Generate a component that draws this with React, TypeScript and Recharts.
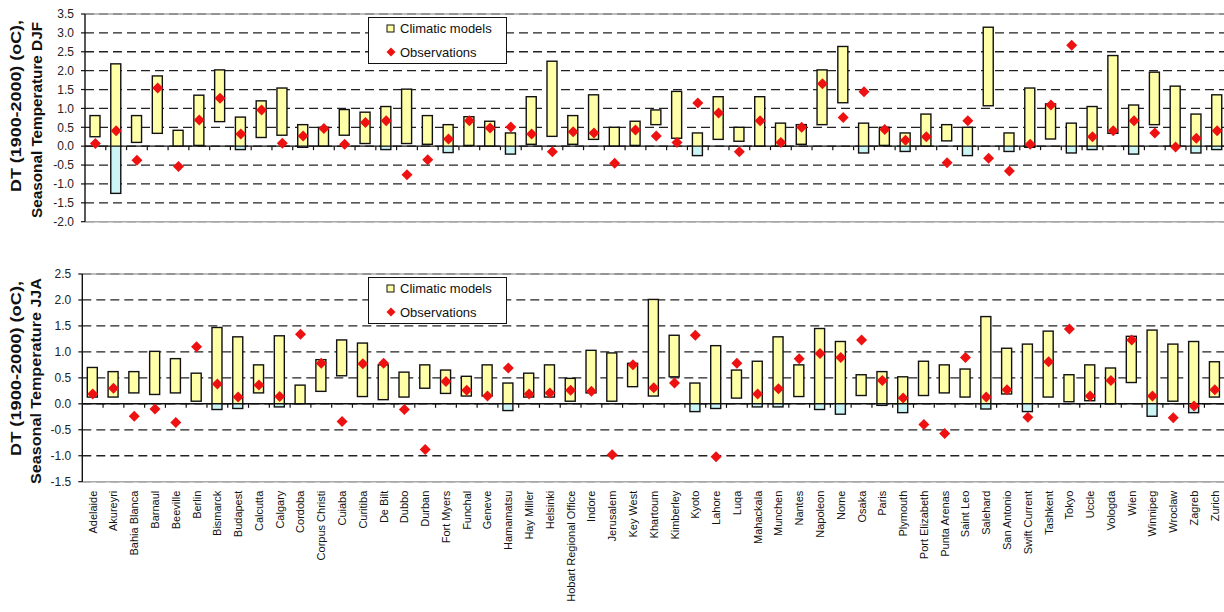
import React from "react";
import { Bar, CartesianGrid, ComposedChart, ReferenceLine, Scatter, XAxis, YAxis } from "recharts";

const cities = [
  "Adelaide", "Akureyri", "Bahia Blanca", "Barnaul", "Beeville", "Berlin", "Bismarck", "Budapest",
  "Calcutta", "Calgary", "Cordoba", "Corpus Christi", "Cuiaba", "Curitiba", "De Bilt", "Dubbo",
  "Durban", "Fort Myers", "Funchal", "Geneve", "Hamamatsu", "Hay Miller", "Helsinki",
  "Hobart Regional Office", "Indore", "Jerusalem", "Key West", "Khartoum", "Kimberley", "Kyoto",
  "Lahore", "Luqa", "Mahackala", "Munchen", "Nantes", "Napoleon", "Nome", "Osaka", "Paris",
  "Plymouth", "Port Elizabeth", "Punta Arenas", "Saint Leo", "Salehard", "San Antonio",
  "Swift Current", "Tashkent", "Tokyo", "Uccle", "Vologda", "Wien", "Winnipeg", "Wroclaw",
  "Zagreb", "Zurich",
];

// winter (DJF): model range and observed change
const djfHigh = [
  0.81, 2.18, 0.81, 1.86, 0.42, 1.35, 2.02, 0.77, 1.2, 1.54, 0.57, 0.5, 0.97, 0.9, 1.05, 1.51,
  0.81, 0.57, 0.78, 0.66, 0.35, 1.31, 2.25, 0.81, 1.36, 0.5, 0.66, 0.96, 1.45, 0.35, 1.31, 0.5,
  1.31, 0.61, 0.57, 2.02, 2.64, 0.61, 0.5, 0.35, 0.85, 0.57, 0.5, 3.15, 0.35, 1.54, 1.12, 0.61,
  1.05, 2.4, 1.09, 1.96, 1.59, 0.85, 1.36,
];
const djfLow = [
  0.25, -1.25, 0.1, 0.34, 0.0, 0.02, 0.65, -0.09, 0.23, 0.29, -0.03, 0.0, 0.29, 0.07, -0.09, 0.07,
  0.05, -0.17, 0.02, 0.0, -0.21, 0.05, 0.26, 0.05, 0.18, 0.0, 0.02, 0.57, 0.21, -0.25, 0.18, 0.13,
  0.0, 0.0, 0.05, 0.57, 1.15, -0.18, 0.02, -0.14, 0.0, 0.14, -0.25, 1.07, -0.14, -0.03, 0.19, -0.18,
  -0.09, 0.34, -0.21, 0.57, 0.0, -0.18, -0.09,
];
const djfObs = [
  0.07, 0.41, -0.37, 1.54, -0.54, 0.69, 1.27, 0.32, 0.96, 0.08, 0.27, 0.47, 0.05, 0.63, 0.67, -0.76,
  -0.36, 0.19, 0.67, 0.48, 0.51, 0.32, -0.15, 0.38, 0.35, -0.45, 0.43, 0.27, 0.1, 1.14, 0.88, -0.15,
  0.67, 0.1, 0.5, 1.65, 0.76, 1.44, 0.44, 0.16, 0.25, -0.44, 0.67, -0.32, -0.66, 0.05, 1.09, 2.67,
  0.25, 0.41, 0.67, 0.35, -0.02, 0.21, 0.41,
];

// summer (JJA)
const jjaHigh = [
  0.7, 0.62, 0.62, 1.01, 0.87, 0.59, 1.47, 1.29, 0.75, 1.31, 0.36, 0.85, 1.23, 1.17, 0.75, 0.61,
  0.75, 0.65, 0.53, 0.75, 0.4, 0.59, 0.75, 0.49, 1.03, 0.98, 0.78, 2.01, 1.32, 0.4, 1.12, 0.65,
  0.82, 1.29, 0.75, 1.45, 1.2, 0.56, 0.62, 0.52, 0.82, 0.75, 0.67, 1.68, 1.07, 1.15, 1.4, 0.56,
  0.75, 0.69, 1.3, 1.42, 1.15, 1.2, 0.81,
];
const jjaLow = [
  0.13, 0.13, 0.21, 0.18, 0.21, 0.05, -0.11, -0.09, 0.21, -0.06, 0.0, 0.24, 0.54, 0.14, 0.08, 0.13,
  0.3, 0.2, 0.15, 0.15, -0.13, 0.13, 0.13, 0.05, 0.21, 0.05, 0.33, 0.15, 0.52, -0.15, -0.09, 0.11,
  -0.06, -0.06, 0.14, -0.11, -0.2, 0.16, -0.03, -0.17, 0.16, 0.21, 0.13, -0.1, 0.19, -0.15, 0.13, 0.04,
  0.06, 0.0, 0.41, -0.24, 0.05, -0.17, 0.13,
];
const jjaObs = [
  0.19, 0.3, -0.24, -0.1, -0.36, 1.1, 0.38, 0.13, 0.36, 0.14, 1.34, 0.78, -0.34, 0.77, 0.78, -0.11,
  -0.88, 0.43, 0.26, 0.15, 0.69, 0.19, 0.21, 0.26, 0.24, -0.98, 0.75, 0.31, 0.4, 1.32, -1.02, 0.78,
  0.19, 0.29, 0.87, 0.97, 0.89, 1.23, 0.45, 0.11, -0.4, -0.57, 0.89, 0.13, 0.27, -0.26, 0.81, 1.44,
  0.15, 0.45, 1.23, 0.15, -0.27, -0.04, 0.27,
];

const djfTicks = [-2, -1.5, -1, -0.5, 0, 0.5, 1, 1.5, 2, 2.5, 3, 3.5];
const jjaTicks = [-1.5, -1, -0.5, 0, 0.5, 1, 1.5, 2, 2.5];

const FONT = '"Liberation Sans", Arial, Helvetica, sans-serif';
const YELLOW = "#FFFFA8";
const CYAN = "#CCF5F5";
const RED = "#EE1111";

type Row = { city: string; lo: number; hi: number; obs: number };

function buildRows(high: number[], low: number[], obs: number[]): Row[] {
  return cities.map((city, i) => ({ city, lo: low[i], hi: high[i], obs: obs[i] }));
}

// model range box, yellow above zero and cyan below it
function RangeBox(props: any) {
  const { x, y, width, height, payload } = props;
  if (!payload || width == null) return null;
  const top = Math.min(y, y + height);
  const h = Math.abs(height);
  const { lo, hi } = payload as Row;
  let split = top + h;
  if (hi <= 0) split = top;
  else if (lo < 0) split = top + (h * hi) / (hi - lo);
  return (
    <g>
      <rect x={x} y={top} width={width} height={split - top} fill={YELLOW} />
      <rect x={x} y={split} width={width} height={top + h - split} fill={CYAN} />
      <rect x={x} y={top} width={width} height={h} fill="none" stroke="#111" strokeWidth={1.4} />
    </g>
  );
}

function Diamond(props: any) {
  const { cx, cy } = props;
  if (cx == null || cy == null) return null;
  const r = 5.5;
  return <polygon points={`${cx},${cy - r} ${cx + r},${cy} ${cx},${cy + r} ${cx - r},${cy}`} fill={RED} />;
}

// the zero line doubles as category axis: small ticks between cities
function ZeroAxis(props: any) {
  const left = Math.min(props.x1, props.x2);
  const right = Math.max(props.x1, props.x2);
  const yy = props.y1;
  const step = (right - left) / cities.length;
  return (
    <g>
      <line x1={left} x2={right} y1={yy} y2={yy} stroke="#111" strokeWidth={1.4} />
      {cities.slice(1).map((c, i) => (
        <line key={c} x1={left + step * (i + 1)} x2={left + step * (i + 1)} y1={yy} y2={yy + 4} stroke="#111" strokeWidth={1.2} />
      ))}
    </g>
  );
}

function CityTick(props: any) {
  const { x, y, payload } = props;
  const yy = y + 1;
  return (
    <text
      x={x}
      y={yy}
      transform={`rotate(-90 ${x} ${yy})`}
      textAnchor="end"
      dominantBaseline="central"
      fontSize={11}
      fontFamily={FONT}
      fill="#111"
    >
      {payload.value}
    </text>
  );
}

function ChartKey({ left, top }: { left: number; top: number }) {
  const row: React.CSSProperties = { position: "absolute", left: 17, height: 16, display: "flex", alignItems: "center", whiteSpace: "nowrap" };
  return (
    <div
      style={{
        position: "absolute",
        left,
        top,
        width: 139,
        height: 47,
        boxSizing: "border-box",
        border: "1.5px solid #111",
        background: "#fff",
        fontFamily: FONT,
        fontSize: 13,
        color: "#111",
      }}
    >
      <div style={{ ...row, top: 2 }}>
        <svg width={9} height={9} style={{ marginRight: 5 }}>
          <rect x={1} y={1} width={7} height={7} fill={YELLOW} stroke="#111" strokeWidth={1} />
        </svg>
        <span>Climatic models</span>
      </div>
      <div style={{ ...row, top: 26 }}>
        <svg width={10} height={10} style={{ marginRight: 4 }}>
          <polygon points="5,0.5 9.5,5 5,9.5 0.5,5" fill={RED} />
        </svg>
        <span>Observations</span>
      </div>
    </div>
  );
}

type PanelProps = {
  rows: Row[];
  ticks: number[];
  top: number;
  width: number;
  height: number;
  margin: { top: number; right: number; bottom: number; left: number };
  axisWidth: number;
  showCities: boolean;
};

function Panel({ rows, ticks, top, width, height, margin, axisWidth, showCities }: PanelProps) {
  const lo = ticks[0];
  const hi = ticks[ticks.length - 1];
  return (
    <div style={{ position: "absolute", left: 0, top, width, height }}>
      <ComposedChart width={width} height={height} data={rows} margin={margin}>
        <CartesianGrid vertical={false} stroke="#222" strokeWidth={1.3} strokeDasharray="9 5" />
        <XAxis
          dataKey="city"
          hide={!showCities}
          interval={0}
          axisLine={false}
          tickLine={false}
          height={showCities ? 130 : 0}
          tick={showCities ? <CityTick /> : false}
        />
        <YAxis
          type="number"
          domain={[lo, hi]}
          ticks={ticks}
          interval={0}
          allowDataOverflow
          width={axisWidth}
          tickSize={4}
          tickMargin={7}
          tickFormatter={(v: number) => v.toFixed(1)}
          axisLine={{ stroke: "#111", strokeWidth: 1.4 }}
          tickLine={{ stroke: "#111", strokeWidth: 1.2 }}
          tick={{ fill: "#222", fontSize: 12, fontFamily: FONT }}
        />
        <ReferenceLine y={hi} stroke="#a8a8a8" strokeWidth={1.6} />
        <ReferenceLine y={lo} stroke="#a8a8a8" strokeWidth={1.6} />
        <ReferenceLine y={0} shape={ZeroAxis} />
        <Bar dataKey={(r: Row) => [r.lo, r.hi]} barSize={10} shape={RangeBox} isAnimationActive={false} />
        <Scatter dataKey="obs" shape={Diamond} isAnimationActive={false} />
      </ComposedChart>
    </div>
  );
}

function AxisTitle({ lines }: { lines: { text: string; x: number; y: number; len: number }[] }) {
  return (
    <>
      {lines.map((l) => (
        <text
          key={l.text + l.y}
          x={l.x}
          y={l.y}
          transform={`rotate(-90 ${l.x} ${l.y})`}
          textAnchor="start"
          dominantBaseline="central"
          fontSize={14}
          fontWeight="bold"
          fontFamily={FONT}
          fill="#111"
          textLength={l.len}
          lengthAdjust="spacingAndGlyphs"
        >
          {l.text}
        </text>
      ))}
    </>
  );
}

export default function App() {
  const djfRows = buildRows(djfHigh, djfLow, djfObs);
  const jjaRows = buildRows(jjaHigh, jjaLow, jjaObs);

  return (
    <div style={{ position: "absolute", left: 0, top: 0, width: 1224, height: 612, overflow: "hidden", background: "#fff" }}>
      <Panel
        rows={djfRows}
        ticks={djfTicks}
        top={0}
        width={1228}
        height={240}
        margin={{ top: 14, right: 0.5, bottom: 18.3, left: 0 }}
        axisWidth={85}
        showCities={false}
      />
      <Panel
        rows={jjaRows}
        ticks={jjaTicks}
        top={250}
        width={1226}
        height={362}
        margin={{ top: 24, right: 0.8, bottom: 0.3, left: 0 }}
        axisWidth={82.3}
        showCities
      />
      <ChartKey left={368} top={17} />
      <ChartKey left={368} top={277} />
      <svg width={60} height={612} style={{ position: "absolute", left: 0, top: 0, pointerEvents: "none" }}>
        <AxisTitle
          lines={[
            { text: "DT (1900-2000) (oC),", x: 16, y: 192, len: 172 },
            { text: "Seasonal Temperature DJF", x: 37, y: 218, len: 196 },
            { text: "DT (1900-2000) (oC),", x: 15.5, y: 456, len: 175 },
            { text: "Seasonal Temperature JJA", x: 36, y: 484, len: 206 },
          ]}
        />
      </svg>
    </div>
  );
}
